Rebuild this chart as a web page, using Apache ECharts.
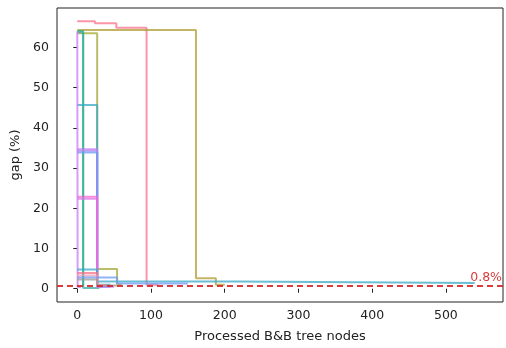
<!DOCTYPE html>
<html><head><meta charset="utf-8">
<script src="https://cdn.jsdelivr.net/npm/echarts@6/dist/echarts.min.js"></script>
<style>html,body{margin:0;padding:0;background:#fff}#c{width:506px;height:348px}</style>
</head><body><div id="c"></div>
<script>
// Data (step-post traces: gap % vs processed nodes)
const xTicks = [0, 100, 200, 300, 400, 500];
const yTicks = [0, 10, 20, 30, 40, 50, 60];
const gapRef = 0.8;

const pinkX = [0, 24, 53, 94, 110];      const pinkY = [66.5, 66.0, 64.9, 1.0, 1.0];
const oliveX = [0, 161, 188, 200];       const oliveY = [64.3, 2.6, 1.0, 1.0];
const olive2X = [0, 27, 54, 60];         const olive2Y = [63.5, 4.9, 1.1, 1.1];
const greenX = [0, 3, 8];                const greenY = [64.1, 64.1, 0.4];
const tealX = [0, 8, 30];                const tealY = [63.8, 0.2, 0.2];
const cyanX = [0, 27, 216, 539];         const cyanY = [45.7, 1.8, 1.4, 1.4];
const purpleX = [0, 27, 50];             const purpleY = [34.7, 0.5, 0.5];
const purple2X = [0, 27, 45];            const purple2Y = [34.3, 0.5, 0.5];
const blueX = [0, 27, 40];               const blueY = [33.9, 0.6, 0.6];
const magentaX = [0, 27, 35];            const magentaY = [22.9, 0.6, 0.6];
const magenta2X = [0, 27, 33];           const magenta2Y = [22.4, 0.6, 0.6];
const lavenderX = [0, 0.5, 5];           const lavenderY = [64.0, 0.4, 0.4];
const sky1X = [0, 27, 45];               const sky1Y = [4.8, 1.0, 1.0];
const salmonX = [0, 27, 40];             const salmonY = [3.9, 0.9, 0.9];
const rose2X = [0, 27, 38];              const rose2Y = [3.3, 0.9, 0.9];
const sky2X = [0, 54, 150];              const sky2Y = [2.8, 1.3, 1.3];
const grayX = [0, 27, 54];               const grayY = [2.3, 0.8, 0.8];

const traces = [
  ['pink', pinkX, pinkY, '#f77189'],
  ['olive', oliveX, oliveY, '#ae9d31'],
  ['olive2', olive2X, olive2Y, '#a3a533'],
  ['green', greenX, greenY, '#33b07a'],
  ['teal', tealX, tealY, '#36ada4'],
  ['cyan', cyanX, cyanY, '#38a9c5'],
  ['purple', purpleX, purpleY, '#cc7af4'],
  ['purple2', purple2X, purple2Y, '#b08af0'],
  ['blue', blueX, blueY, '#6e9bf4'],
  ['magenta', magentaX, magentaY, '#f565cc'],
  ['magenta2', magenta2X, magenta2Y, '#e070e8'],
  ['lavender', lavenderX, lavenderY, '#cc7af4'],
  ['sky1', sky1X, sky1Y, '#38a9c5'],
  ['salmon', salmonX, salmonY, '#f77189'],
  ['rose2', rose2X, rose2Y, '#f59ab0'],
  ['sky2', sky2X, sky2Y, '#6e9bf4'],
  ['gray', grayX, grayY, '#999999']
];

const font = 'DejaVu Sans';
const series = traces.map(([name, xs, ys, color]) => ({
  name, type: 'line', step: 'end', symbol: 'none',
  data: xs.map((x, i) => [x, ys[i]]),
  lineStyle: { color, width: 2, opacity: 0.75 },
  itemStyle: { color }, z: 2, animation: false
}));
series.push({
  name: 'ref', type: 'line', data: [], symbol: 'none', animation: false,
  markLine: {
    silent: true, symbol: 'none', animation: false,
    lineStyle: { color: '#d62728', type: [6, 4], width: 2, opacity: 0.9 },
    label: { show: true, position: 'insideEndTop', formatter: gapRef + '%', color: '#d62728',
             fontFamily: font, fontSize: 12.5, distance: [1, 1] },
    data: [{ yAxis: gapRef }]
  }
});

const chart = echarts.init(document.getElementById('c'), null, { renderer: 'canvas' });
chart.setOption({
  animation: false,
  grid: { left: 57, right: 3, top: 8, bottom: 44, show: true, borderColor: '#222', borderWidth: 1, backgroundColor: 'transparent' },
  xAxis: {
    type: 'value', min: -27.5, max: 577.5,
    name: 'Processed B&B tree nodes', nameLocation: 'middle', nameGap: 28,
    nameTextStyle: { fontFamily: font, fontSize: 13, color: '#222' },
    axisLine: { show: false }, splitLine: { show: false },
    axisTick: { show: true, length: 4, lineStyle: { color: '#222' }, customValues: xTicks },
    axisLabel: { fontFamily: font, fontSize: 12.5, color: '#222', margin: 7, customValues: xTicks }
  },
  yAxis: {
    type: 'value', min: -3.3, max: 69.8,
    name: 'gap (%)', nameLocation: 'middle', nameGap: 32,
    nameTextStyle: { fontFamily: font, fontSize: 13, color: '#222' },
    axisLine: { show: false }, splitLine: { show: false },
    axisTick: { show: true, length: 4, lineStyle: { color: '#222' }, customValues: yTicks },
    axisLabel: { fontFamily: font, fontSize: 12.5, color: '#222', margin: 8, customValues: yTicks }
  },
  series
});
</script></body></html>
